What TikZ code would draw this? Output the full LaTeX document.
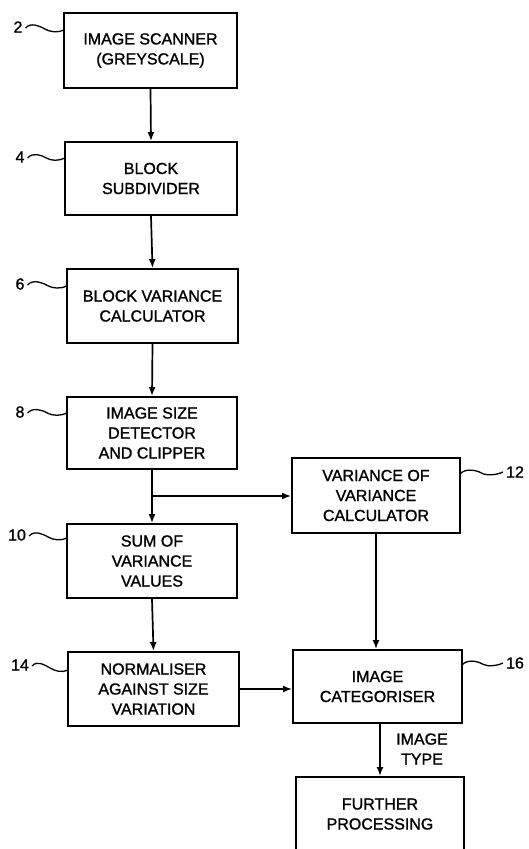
\documentclass[tikz,border=0pt]{standalone}
\usepackage{fontspec}
\setmainfont{Liberation Sans}[FakeBold=1.2]
\usetikzlibrary{arrows.meta,calc}
\begin{document}
\begin{tikzpicture}[x=1pt,y=-1pt,
  box/.style={draw, line width=1.9pt, align=center, inner sep=0pt,
    font=\fontsize{16}{20}\selectfont},
  lbl/.style={font=\fontsize{16}{20}\selectfont, inner sep=0pt},
  arr/.style={line width=1.7pt, -{Latex[length=9pt,width=7pt]}},
  wave/.style={line width=1.3pt, to path={
    .. controls ($(\tikztostart)+(5,-6)$) and ($(\tikztostart)!0.5!(\tikztotarget)+(-5,-3)$)
    .. ($(\tikztostart)!0.5!(\tikztotarget)$)
    .. controls ($(\tikztostart)!0.5!(\tikztotarget)+(5,3)$) and ($(\tikztotarget)+(-6,3)$)
    .. (\tikztotarget)}}
]
\fill[white] (0,0) rectangle (528,849);
\useasboundingbox (0,0) rectangle (528,849);
\clip (0,0) rectangle (528,849);

% boxes
\node[box, minimum width=173pt, minimum height=75pt] (b2) at (150.5,50.5) {IMAGE SCANNER\\(GREYSCALE)};
\node[box, minimum width=172pt, minimum height=73pt] (b4) at (151,178.5) {BLOCK\\SUBDIVIDER};
\node[box, minimum width=171pt, minimum height=74pt] (b6) at (152.5,306) {BLOCK VARIANCE\\CALCULATOR};
\node[box, minimum width=170pt, minimum height=72pt] (b8) at (152,433) {IMAGE SIZE\\DETECTOR\\AND CLIPPER};
\node[box, minimum width=170pt, minimum height=74pt] (b10) at (152,561) {SUM OF\\VARIANCE\\VALUES};
\node[box, minimum width=171pt, minimum height=74pt] (b14) at (153.5,689) {NORMALISER\\AGAINST SIZE\\VARIATION};
\node[box, minimum width=168pt, minimum height=75pt] (b12) at (376,495.5) {VARIANCE OF\\VARIANCE\\CALCULATOR};
\node[box, minimum width=169pt, minimum height=73pt] (b16) at (377.5,686.5) {IMAGE\\CATEGORISER};
\node[box, minimum width=168pt, minimum height=74pt, text depth=0pt] (fp) at (380,814) {FURTHER\\PROCESSING};
\node[lbl, align=center] (it) at (422,749) {IMAGE\\TYPE};

% connectors
\draw[arr] (b2.south) -- (b4.north);
\draw[arr] (b4.south) -- (b6.north);
\draw[arr] (b6.south) -- (b8.north);
\draw[arr] (b8.south) -- (b10.north);
\coordinate (j) at (152,496);
\draw[arr] (j) -- (j -| b12.west);
\draw[arr] (b10.south) -- (b14.north);
\draw[arr] (b12.south) -- (b12.south |- b16.north);
\draw[arr] (b14.east) -- (b14.east -| b16.west);
\draw[arr] (b16.south -| fp.north) -- (fp.north);

% reference numerals
\node[lbl] (l2) at (18,27) {2};
\node[lbl] (l4) at (20,157) {4};
\node[lbl] (l6) at (20,284) {6};
\node[lbl] (l8) at (20,412) {8};
\node[lbl] (l10) at (17,535) {10};
\node[lbl] (l14) at (20,665) {14};
\node[lbl] (l12) at (515,472) {12};
\node[lbl] (l16) at (515,663) {16};

\coordinate (w2) at (64,30);
\coordinate (w4) at (65,158);
\coordinate (w6) at (67,286);
\coordinate (w8) at (67,413);
\coordinate (w10) at (67,538);
\coordinate (w14) at (68,670);
\coordinate (w12) at (460,474);
\coordinate (w16) at (462,665);

\draw[wave] ($(l2.east)+(3,1)$) to (w2);
\draw[wave] ($(l4.east)+(3,1)$) to (w4);
\draw[wave] ($(l6.east)+(3,1)$) to (w6);
\draw[wave] ($(l8.east)+(3,1)$) to (w8);
\draw[wave] ($(l10.east)+(3,1)$) to (w10);
\draw[wave] ($(l14.east)+(3,1)$) to (w14);
\draw[wave] (w12) to ($(l12.west)+(-3,0)$);
\draw[wave] (w16) to ($(l16.west)+(-3,0)$);
\end{tikzpicture}
\end{document}
